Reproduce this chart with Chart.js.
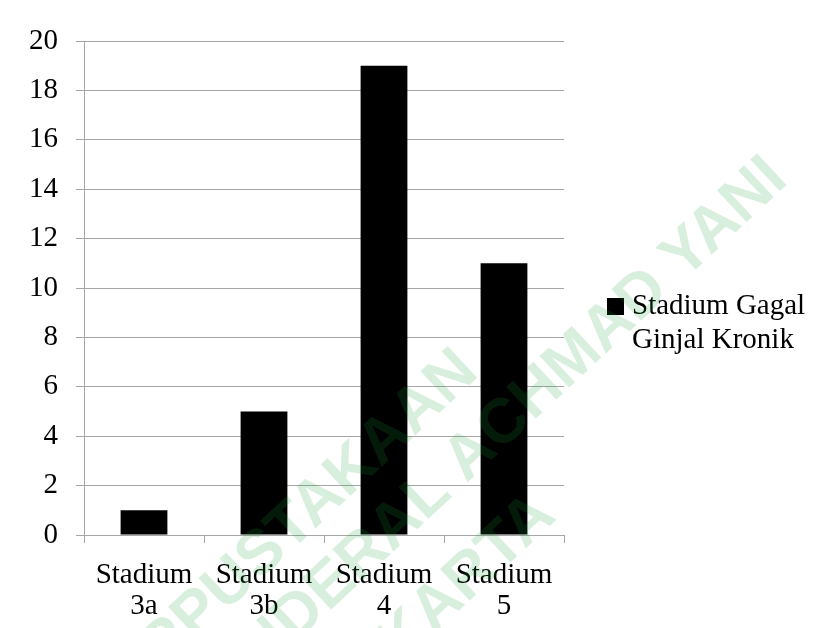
<!DOCTYPE html>
<html lang="id">
<head>
<meta charset="UTF-8">
<title>Stadium Gagal Ginjal Kronik</title>
<script src="https://cdn.jsdelivr.net/npm/chart.js"></script>
<style>
    html, body { margin: 0; padding: 0; background: #fff; }
    .chart-box { width: 818px; height: 628px; }
</style>
</head>
<body>
<div class="chart-box"><canvas id="barChart"></canvas></div>
<script>
const stages = [['Stadium', '3a'], ['Stadium', '3b'], ['Stadium', '4'], ['Stadium', '5']];
const patients = [1, 5, 19, 11];
const seriesName = ['Stadium Gagal', 'Ginjal Kronik'];
const watermark = ['PERPUSTAKAAN', 'UNIVERSITAS JENDERAL ACHMAD YANI', 'YOGYAKARTA'];

const serif = "'Liberation Serif', 'Times New Roman', serif";
const gridGray = '#a6a6a6';

// legend on the right, drawn by hand so the name wraps onto two lines
const sideLegend = {
    id: 'sideLegend',
    afterDraw(chart) {
        const ctx = chart.ctx;
        const x = chart.chartArea.right + 43;
        ctx.save();
        ctx.fillStyle = '#000';
        ctx.fillRect(x, 298, 17, 17);
        ctx.font = '29px ' + serif;
        ctx.textBaseline = 'alphabetic';
        seriesName.forEach((line, i) => ctx.fillText(line, x + 25, 314 + i * 34));
        ctx.restore();
    }
};

// library stamp across the page, on top of the bars
const stampOffsets = [-76, -6, 82];
const stamp = {
    id: 'stamp',
    afterDraw(chart) {
        const ctx = chart.ctx;
        ctx.save();
        ctx.translate(330, 595);
        ctx.rotate(-43 * Math.PI / 180);
        ctx.font = "bold 63px 'Liberation Sans', Arial, sans-serif";
        ctx.fillStyle = 'rgba(30, 160, 60, 0.17)';
        ctx.textAlign = 'center';
        ctx.textBaseline = 'middle';
        watermark.forEach((t, i) => ctx.fillText(t, 0, stampOffsets[i]));
        ctx.restore();
    }
};

new Chart(document.getElementById('barChart'), {
    type: 'bar',
    data: {
        labels: stages,
        datasets: [{
            label: seriesName.join(' '),
            data: patients,
            backgroundColor: '#000',
            borderWidth: 0,
            barPercentage: 0.39,
            categoryPercentage: 1
        }]
    },
    options: {
        responsive: true,
        maintainAspectRatio: false,
        animation: false,
        layout: { padding: { top: 41, right: 254, left: 0, bottom: 0 } },
        plugins: {
            legend: { display: false },
            tooltip: { enabled: false }
        },
        scales: {
            x: {
                ticks: {
                    color: '#000',
                    font: { family: serif, size: 29, lineHeight: 1.1 },
                    padding: 16,
                    maxRotation: 0,
                    autoSkip: false
                },
                grid: { drawOnChartArea: false, drawTicks: true, tickLength: 8, color: gridGray, offset: true },
                border: { color: gridGray },
                afterFit(scale) { scale.height = 93; }
            },
            y: {
                min: 0,
                max: 20,
                ticks: {
                    stepSize: 2,
                    color: '#000',
                    padding: 18,
                    font: { family: serif, size: 29 }
                },
                grid: { color: gridGray, tickLength: 8 },
                border: { color: gridGray },
                afterFit(scale) { scale.width = 84; }
            }
        }
    },
    plugins: [sideLegend, stamp]
});
</script>
</body>
</html>
